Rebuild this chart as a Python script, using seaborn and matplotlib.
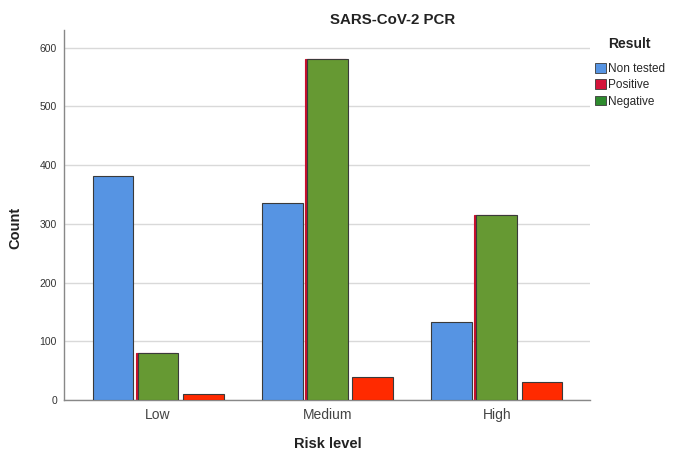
import pandas as pd
import matplotlib
matplotlib.use("Agg")
import matplotlib.pyplot as plt
from matplotlib.patches import Patch, Rectangle
import seaborn as sns

# valores
risk = ["Low", "Medium", "High"]
non_tested = [381, 335, 133]
negative = [80, 581, 315]
positive = [10, 40, 30]

df = pd.DataFrame({
    "Risk level": risk * 3,
    "Result": ["Non tested"] * 3 + ["Negative"] * 3 + ["Positive"] * 3,
    "Count": non_tested + negative + positive,
})

blue = "#5694E3"
green = "#669933"
orange_red = "#FF2A00"
crimson = "#C8102E"

sns.set_style("white")
plt.rcParams['font.family'] = ['Liberation Sans', 'DejaVu Sans']

fig = plt.figure(figsize=(6.78, 4.53), dpi=100)
ax = fig.add_axes([64 / 678, 1 - 400 / 453, 526 / 678, 370 / 453])

sns.barplot(data=df, x="Risk level", y="Count", hue="Result",
            order=risk, hue_order=["Non tested", "Negative", "Positive"],
            palette=[blue, green, orange_red], saturation=1, width=0.8, gap=0.1,
            edgecolor="#3a3a3a", linewidth=0.8, legend=False, ax=ax, zorder=3)

# fatia vermelha atrás das barras verdes (como no original do SPSS)
for bar in ax.containers[1]:
    ax.add_patch(Rectangle((bar.get_x() - 0.012, 0), bar.get_width(), bar.get_height(),
                           facecolor=crimson, edgecolor=crimson, linewidth=0.8, zorder=2))

ax.set_xlim(-0.555, 2.55)
ax.set_ylim(0, 630)
ax.set_yticks([0, 100, 200, 300, 400, 500, 600])
ax.yaxis.grid(True, color="#d9d9d9", linewidth=1)
ax.set_axisbelow(True)
ax.tick_params(axis="y", length=0, labelsize=7.5, labelcolor="#333333", pad=5)
ax.tick_params(axis="x", length=0, labelsize=10, labelcolor="#444444", pad=6)

for s in ["top", "right"]:
    ax.spines[s].set_visible(False)
for s in ["left", "bottom"]:
    ax.spines[s].set_color("#888888")
    ax.spines[s].set_linewidth(1)

ax.set_ylabel("Count", fontsize=10.5, fontweight="bold", color="#222222")
ax.set_xlabel("Risk level", fontsize=10.5, fontweight="bold", color="#222222")
ax.yaxis.set_label_coords(-0.08, 0.465)
ax.xaxis.set_label_coords(0.502, -0.1)

fig.text(393 / 678, 1 - 20 / 453, "SARS-CoV-2 PCR", ha="center", va="center",
         fontsize=10.8, fontweight="bold", color="#222222")

# legenda
fig.text(629 / 678, 1 - 44 / 453, "Result", ha="center", va="center",
         fontsize=10, fontweight="bold", color="#222222")
handles = [Patch(facecolor=blue, edgecolor="#3a3a3a", linewidth=0.6),
           Patch(facecolor="#D4143A", edgecolor="#3a3a3a", linewidth=0.6),
           Patch(facecolor="#2E8B2E", edgecolor="#3a3a3a", linewidth=0.6)]
leg = fig.legend(handles, ["Non tested", "Positive", "Negative"],
                 loc="upper left", bbox_to_anchor=(587 / 678, 1 - 55 / 453),
                 frameon=False, fontsize=8.5,
                 handlelength=0.9, handleheight=0.9, handletextpad=0.2,
                 labelspacing=0.35, borderpad=0.2)

fig.savefig("out.png", dpi=100)
